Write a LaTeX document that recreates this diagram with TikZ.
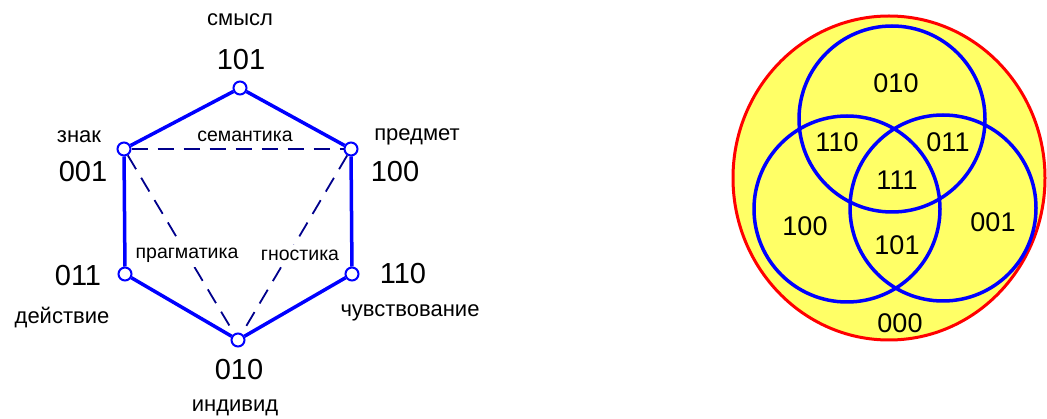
\documentclass[tikz,border=0pt]{standalone}
\usepackage{fontspec}
\setmainfont{Liberation Sans}
\definecolor{vennyellow}{RGB}{255,255,102}
\definecolor{dashblue}{RGB}{0,0,140}

\begin{document}
\begin{tikzpicture}[
      x=1pt, y=-1pt,
      every node/.style={inner sep=0pt},
      vert/.style={draw=blue, fill=white, circle, line width=2pt, minimum size=13pt},
      code/.style={font=\fontsize{29}{32}\selectfont},
      word/.style={font=\fontsize{22}{25}\selectfont},
      axis/.style={font=\fontsize{19.5}{22}\selectfont, fill=white, inner xsep=1pt, inner ysep=5pt},
      region/.style={font=\fontsize{27}{30}\selectfont},
      edge/.style={draw=blue, line width=3.5pt},
      link/.style={draw=dashblue, line width=1.8pt, dash pattern=on 16pt off 10pt},
      ring/.style={draw=blue, line width=3.5pt},
    ]
    \useasboundingbox (0,0) rectangle (1047,419);

    % hexagon of the sign
    \node[vert] (top) at (240,88) {};
    \node[vert] (ul) at (124,149) {};
    \node[vert] (ur) at (351,149) {};
    \node[vert] (ll) at (125,274) {};
    \node[vert] (lr) at (352,274) {};
    \node[vert] (bot) at (238,340) {};

    \draw[link] (ul) -- (ur);
    \draw[link] (ul) -- (bot);
    \draw[link] (ur) -- (bot);

    \draw[edge] (top) -- (ur);
    \draw[edge] (ur) -- (lr);
    \draw[edge] (lr) -- (bot);
    \draw[edge] (bot) -- (ll);
    \draw[edge] (ll) -- (ul);
    \draw[edge] (ul) -- (top);

    \node[word] (smysl) at (240,20) {смысл};
    \node[code] (c101) at (241,60) {101};
    \node[word] (znak) at (79,137) {знак};
    \node[code] (c001) at (83,172) {001};
    \node[word] (predmet) at (417,137) {предмет};
    \node[code] (c100) at (395,172) {100};
    \node[code] (c011) at (78,276) {011};
    \node[word] (dejstvie) at (62,318) {действие};
    \node[code] (c110) at (403,274) {110};
    \node[word] (chuvstv) at (410,313) {чувствование};
    \node[code] (c010) at (239,370) {010};
    \node[word] (individ) at (235,408) {индивид};

    \node[axis] (sem) at (245,136) {семантика};
    \node[axis] (prag) at (187,255) {прагматика};
    \node[axis] (gnos) at (300,255) {гностика};

    % Venn diagram
    \draw[red, line width=3pt, fill=vennyellow] (889,178) ellipse [x radius=156pt, y radius=162pt];
    \draw[ring] (892,119) circle [radius=93pt];
    \draw[ring] (847,209) circle [radius=93pt];
    \draw[ring] (943,208) circle [radius=93pt];

    \node[region] (r010) at (896,83) {010};
    \node[region] (r110) at (837,142) {110};
    \node[region] (r011) at (948,142) {011};
    \node[region] (r111) at (897,180) {111};
    \node[region] (r100) at (805,226) {100};
    \node[region] (r001) at (993,222) {001};
    \node[region] (r101) at (897,245) {101};
    \node[region] (r000) at (900,323) {000};
  \end{tikzpicture}
\end{document}
